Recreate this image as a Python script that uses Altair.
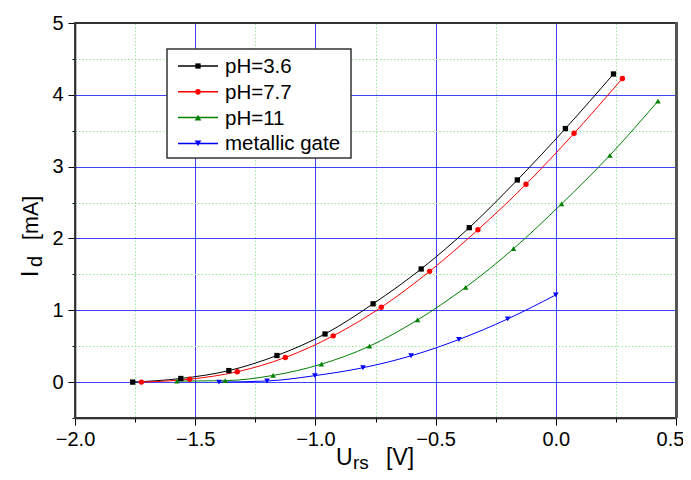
import altair as alt
import pandas as pd

# ---- data ----
series_names = ["pH=3.6", "pH=7.7", "pH=11", "metallic gate"]
series_colors = ["#000000", "#ff0000", "#008000", "#0000ff"]
series_shapes = ["square", "circle", "triangle-up", "triangle-down"]
series_sizes = [28, 32, 44, 44]

x_ph36 = [-1.76, -1.56, -1.36, -1.16, -0.96, -0.76, -0.56, -0.36, -0.16, 0.04, 0.24]
y_ph36 = [0.0, 0.05, 0.16, 0.37, 0.67, 1.09, 1.575, 2.15, 2.815, 3.53, 4.29]

x_ph77 = [-1.724, -1.523, -1.325, -1.125, -0.926, -0.726, -0.525, -0.324, -0.124, 0.076, 0.277]
y_ph77 = [0.0, 0.04, 0.144, 0.343, 0.644, 1.042, 1.542, 2.121, 2.755, 3.464, 4.228]

x_ph11 = [-1.576, -1.375, -1.176, -0.975, -0.775, -0.575, -0.375, -0.176, 0.024, 0.225, 0.425]
y_ph11 = [0.014, 0.02, 0.093, 0.25, 0.5, 0.866, 1.32, 1.857, 2.482, 3.158, 3.912]

x_metal = [-1.401, -1.201, -1.002, -0.802, -0.602, -0.403, -0.2, 0.0]
y_metal = [0.0, 0.015, 0.09, 0.2, 0.366, 0.593, 0.88, 1.214]

x_ticks = [-2.0, -1.75, -1.5, -1.25, -1.0, -0.75, -0.5, -0.25, 0.0, 0.25, 0.5]
y_ticks = [-0.5, 0.0, 0.5, 1.0, 1.5, 2.0, 2.5, 3.0, 3.5, 4.0, 4.5, 5.0]

rows = []
for name, xs, ys in zip(series_names,
                        [x_ph36, x_ph77, x_ph11, x_metal],
                        [y_ph36, y_ph77, y_ph11, y_metal]):
    for i, (xv, yv) in enumerate(zip(xs, ys)):
        rows.append({"series": name, "x": xv, "y": yv, "i": i})
df = pd.DataFrame(rows)

W, H = 601, 395
FONT = "Liberation Sans"

x_major = "abs(round(datum.value*2) - datum.value*2) < 1e-6"
y_major = "abs(round(datum.value) - datum.value) < 1e-6"

x_axis = alt.Axis(
    values=x_ticks,
    labelExpr=f"{x_major} ? format(datum.value, '.1f') : ''",
    title=None,
    labelFont=FONT, labelFontSize=20, labelColor="black", labelPadding=4,
    labelOverlap=False, labelFlush=False,
    labelOffset={"condition": {"test": "datum.value >= 0.49", "value": -6}, "value": 0},
    domainColor="black", domainWidth=1.5,
    tickColor="black", tickWidth=1,
    tickSize={"condition": {"test": x_major, "value": 7}, "value": 4},
    grid=True,
    gridColor={"condition": {"test": x_major, "value": "#0000ff"}, "value": "#9be89b"},
    gridDash={"condition": {"test": x_major, "value": [1, 0]}, "value": [1.5, 2]},
    gridOpacity={"condition": {"test": "datum.value <= -1.99 || datum.value >= 0.49", "value": 0}, "value": 1},
    gridWidth=1,
)
y_axis = alt.Axis(
    values=y_ticks,
    labelExpr=f"{y_major} ? format(datum.value, 'd') : ''",
    title=None,
    labelFont=FONT, labelFontSize=20, labelColor="black", labelPadding=5,
    labelOverlap=False, labelFlush=False,
    domainColor="black", domainWidth=1.5,
    tickColor="black", tickWidth=1,
    tickSize={"condition": {"test": y_major, "value": 7}, "value": 3},
    grid=True,
    gridColor={"condition": {"test": y_major, "value": "#0000ff"}, "value": "#9be89b"},
    gridDash={"condition": {"test": y_major, "value": [1, 0]}, "value": [1.5, 2]},
    gridOpacity={"condition": {"test": "datum.value <= -0.49 || datum.value >= 4.99", "value": 0}, "value": 1},
    gridWidth=1,
)

xs = alt.X("x:Q", scale=alt.Scale(domain=[-2.0, 0.5], nice=False, zero=False), axis=x_axis)
ys = alt.Y("y:Q", scale=alt.Scale(domain=[-0.5, 5.0], nice=False, zero=False), axis=y_axis)
color = alt.Color("series:N", scale=alt.Scale(domain=series_names, range=series_colors), legend=None)
shape = alt.Shape("series:N", scale=alt.Scale(domain=series_names, range=series_shapes), legend=None)
size = alt.Size("series:N", scale=alt.Scale(domain=series_names, range=series_sizes), legend=None)

base = alt.Chart(df)
lines = base.mark_line(interpolate="monotone", strokeWidth=1).encode(
    x=xs, y=ys, color=color, detail="series:N", order="i:Q")
points = base.mark_point(filled=True, opacity=1).encode(
    x=xs, y=ys, color=color, shape=shape, size=size)

layers = [lines, points]

one = pd.DataFrame({"a": [0]})

# frame (top / right)
frame = alt.Chart(one).mark_rect(
    filled=False, stroke="#333333", strokeWidth=1.8).encode(
    x=alt.value(0), x2=alt.value(W), y=alt.value(0), y2=alt.value(H))
right_edge = alt.Chart(one).mark_rule(
    color="#555555", strokeWidth=3).encode(
    x=alt.value(W + 0.5), y=alt.value(-1), y2=alt.value(H))
layers += [frame, right_edge]

# legend box
layers.append(alt.Chart(one).mark_rect(fill="white", stroke="#333333", strokeWidth=1.5).encode(
    x=alt.value(92), x2=alt.value(276), y=alt.value(26), y2=alt.value(135)))
for k, (name, col, shp, sz) in enumerate(zip(series_names, series_colors, series_shapes, series_sizes)):
    yy = 43 + 25.8 * k
    layers.append(alt.Chart(one).mark_rule(color=col, strokeWidth=1.5).encode(
        x=alt.value(103), x2=alt.value(143), y=alt.value(yy)))
    layers.append(alt.Chart(one).mark_point(filled=True, opacity=1, size=sz, shape=shp, color=col).encode(
        x=alt.value(123), y=alt.value(yy)))
    layers.append(alt.Chart(one).mark_text(text=name, font=FONT, fontSize=20.5, align="left",
                                           baseline="middle", color="black").encode(
        x=alt.value(150), y=alt.value(yy + 1)))

# axis titles with subscripts
def txt(t, x, y, size, angle=0):
    kw = dict(text=t, font=FONT, fontSize=size, align="left", baseline="alphabetic", color="black")
    if angle:
        kw["angle"] = angle
    return alt.Chart(one).mark_text(**kw).encode(x=alt.value(x), y=alt.value(y))

layers += [
    txt("U", 336 - 75, 465 - 23, 23),
    txt("rs", 353 - 75, 469 - 23, 19),
    txt("[V]", 386 - 75, 465 - 23, 23),
    txt("I", 38 - 75, 277 - 23, 23, 270),
    txt("d", 42 - 75, 267 - 23, 20, 270),
    txt("[mA]", 38 - 75, 240 - 23, 21.5, 270),
]

chart = alt.layer(*layers).properties(
    width=W, height=H,
    autosize=alt.AutoSizeParams(type="none"),
    padding={"left": 67, "top": 15, "right": 7, "bottom": 54},
).configure_view(stroke=None)

chart.save("out.html", embed_options={"renderer": "svg", "actions": False})
